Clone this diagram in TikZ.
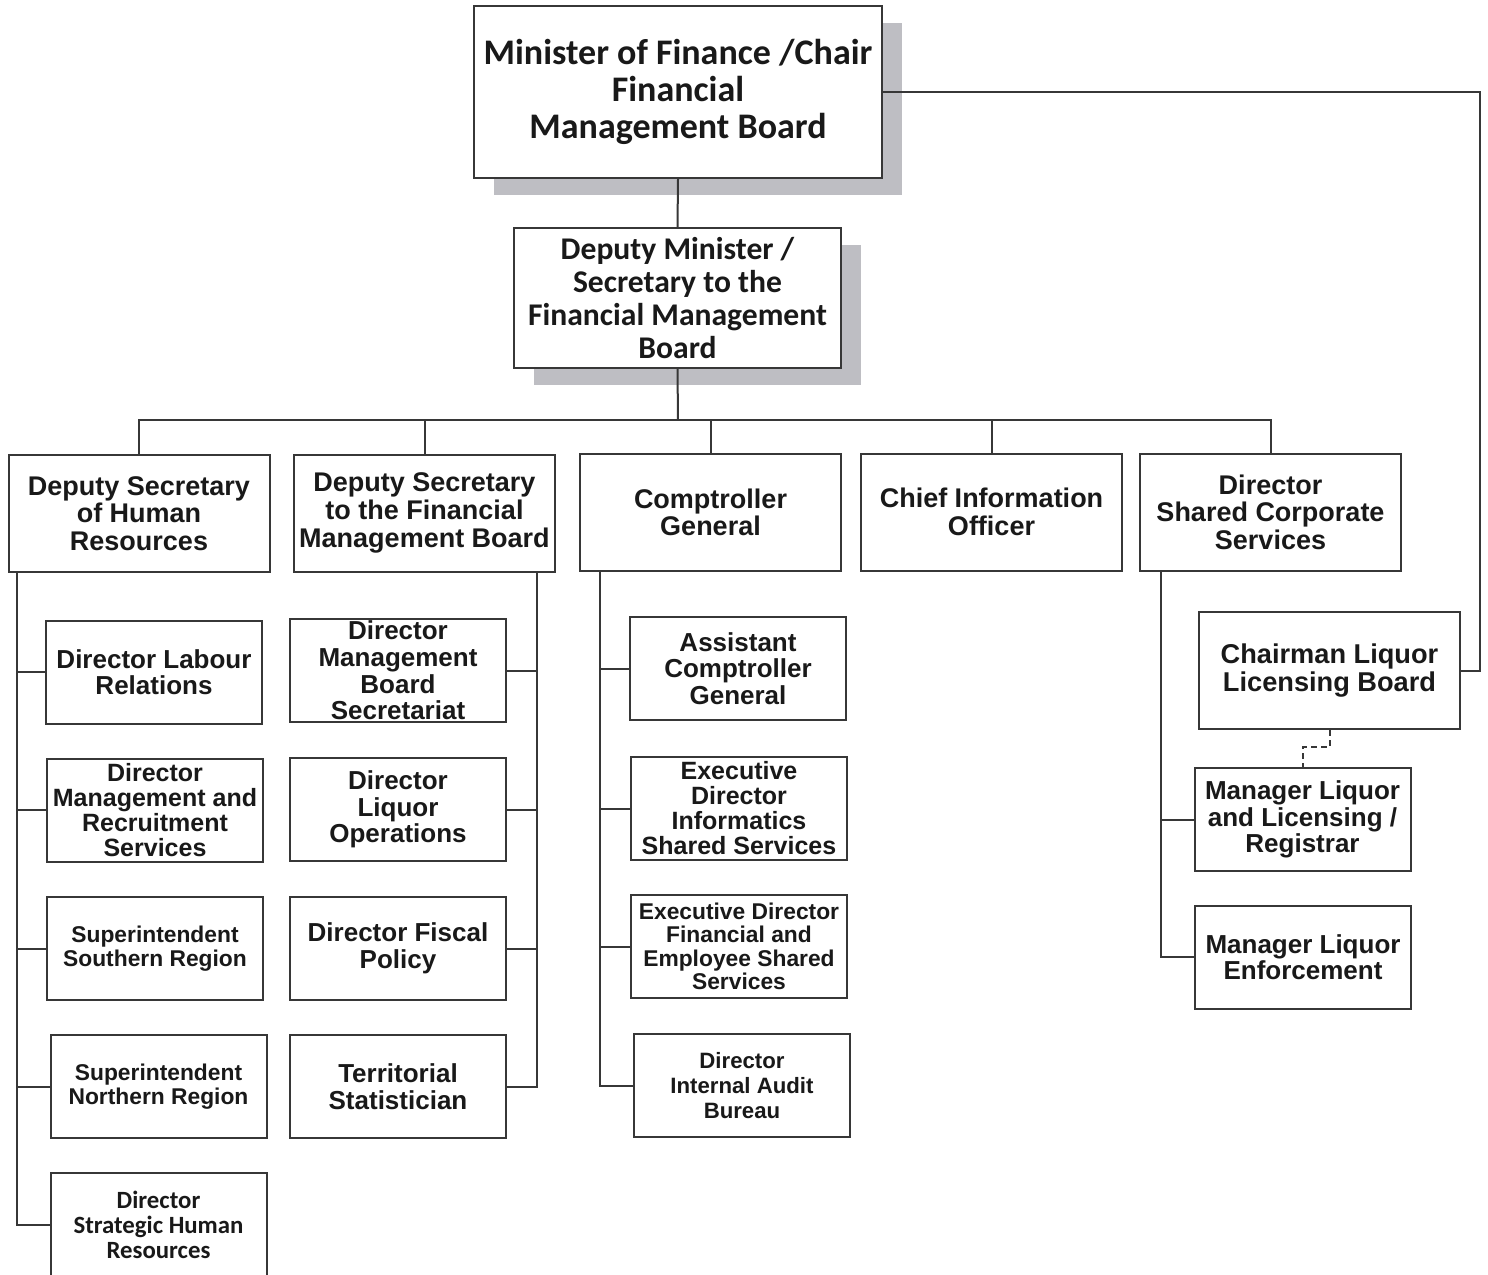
\documentclass[tikz,border=0pt]{standalone}
\usepackage{fontspec}
\usetikzlibrary{shadows}
\newfontfamily\arialfont{Liberation Sans}
\newfontfamily\calfont{Carlito}
\definecolor{linegray}{RGB}{55,55,55}
\definecolor{shadowgray}{RGB}{190,190,195}

\begin{document}
\begin{tikzpicture}[x=0.5pt,y=-0.5pt,line width=1pt,
	box/.style={draw=linegray, fill=white, inner sep=0pt, align=center, text=black!90},
	shadowbox/.style={box, drop shadow={shadow xshift=10pt, shadow yshift=-8.5pt, fill=shadowgray, opacity=1}},
	headbox/.style={box, minimum width=130.5pt, minimum height=58.5pt, font=\arialfont\bfseries\fontsize{13.5}{13.8}\selectfont},
	unitbox/.style={box, minimum width=108pt, minimum height=51.5pt, font=\arialfont\bfseries\fontsize{13}{13.3}\selectfont},
	tightfont/.style={font=\arialfont\bfseries\fontsize{12.5}{12.5}\selectfont},
	smallfont/.style={font=\arialfont\bfseries\fontsize{11.4}{11.7}\selectfont},
	link/.style={draw=linegray}]
	\useasboundingbox (0,0) rectangle (1488,1274);
	\clip (0,0) rectangle (1488,1274);

	\node[shadowbox, minimum width=204pt, minimum height=86pt, font=\calfont\bfseries\fontsize{18}{18.5}\selectfont] (minister) at (678,92) {Minister of Finance /Chair\\Financial\\Management Board};
	\node[shadowbox, minimum width=163.5pt, minimum height=70pt, font=\calfont\bfseries\fontsize{15.8}{16.5}\selectfont] (deputy) at (677.5,298) {Deputy Minister /\\Secretary to the\\Financial Management\\Board};

	\node[headbox] (hr) at (139,513.5) {Deputy Secretary\\of Human\\Resources};
	\node[headbox] (fmb) at (424.5,513) {Deputy Secretary\\to the Financial\\Management Board};
	\node[headbox] (cg) at (710.5,512.5) {Comptroller\\General};
	\node[headbox] (cio) at (991.5,512) {Chief Information\\Officer};
	\node[headbox] (scs) at (1270.5,512) {Director\\Shared Corporate\\Services};

	\node[unitbox] (labour) at (154,672) {Director Labour\\Relations};
	\node[unitbox, tightfont] (recruit) at (155,810) {Director\\Management and\\Recruitment\\Services};
	\node[unitbox, smallfont] (south) at (155,948.5) {Superintendent\\Southern Region};
	\node[unitbox, smallfont] (north) at (158.5,1086.5) {Superintendent\\Northern Region};
	\node[unitbox, minimum height=52pt, font=\calfont\bfseries\fontsize{12.4}{12.5}\selectfont] (strategic) at (158.5,1225) {Director\\Strategic Human\\Resources};

	\node[unitbox] (secretariat) at (398,670.5) {Director\\Management\\Board\\Secretariat};
	\node[unitbox] (liquorops) at (398,809.5) {Director\\Liquor\\Operations};
	\node[unitbox] (fiscal) at (398,948.5) {Director Fiscal\\Policy};
	\node[unitbox] (stats) at (398,1086.5) {Territorial\\Statistician};

	\node[unitbox] (assistant) at (738,668.5) {Assistant\\Comptroller\\General};
	\node[unitbox, tightfont] (informatics) at (739,808.5) {Executive\\Director\\Informatics\\Shared Services};
	\node[unitbox, smallfont] (financial) at (739,946.5) {Executive Director\\Financial and\\Employee Shared\\Services};
	\node[unitbox, font=\arialfont\bfseries\fontsize{11.1}{12.7}\selectfont] (audit) at (742,1085.5) {Director\\Internal Audit\\Bureau};

	\node[box, minimum width=130.5pt, minimum height=58.5pt, font=\arialfont\bfseries\fontsize{13.6}{14}\selectfont] (licboard) at (1329.5,670.5) {Chairman Liquor\\Licensing Board};
	\node[unitbox] (registrar) at (1302.5,819.5) {Manager Liquor\\and Licensing /\\Registrar};
	\node[unitbox] (enforce) at (1303,957) {Manager Liquor\\Enforcement};

	\coordinate (bus) at (678,420);
	\coordinate (hrline) at (17,572);
	\coordinate (fmbline) at (537,572);
	\coordinate (cgline) at (600,571);
	\coordinate (scsline) at (1161,571);
	\coordinate (rightline) at (1480,92);

	\draw[link] (minister.south) -- (deputy.north);
	\draw[link] (deputy.south) -- (bus);
	\foreach \n in {hr,fmb,cg,cio,scs}
		\draw[link] (bus) -| (\n.north);
	\foreach \n in {labour,recruit,south,north,strategic}
		\draw[link] (hrline) |- (\n.west);
	\foreach \n in {secretariat,liquorops,fiscal,stats}
		\draw[link] (fmbline) |- (\n.east);
	\foreach \n in {assistant,informatics,financial,audit}
		\draw[link] (cgline) |- (\n.west);
	\foreach \n in {registrar,enforce}
		\draw[link] (scsline) |- (\n.west);
	\draw[link] (minister.east) -- (rightline) |- (licboard.east);
	\draw[link, dash pattern=on 3pt off 2pt] (licboard.south) -- ++(0,17) -| (registrar.north);
\end{tikzpicture}
\end{document}
